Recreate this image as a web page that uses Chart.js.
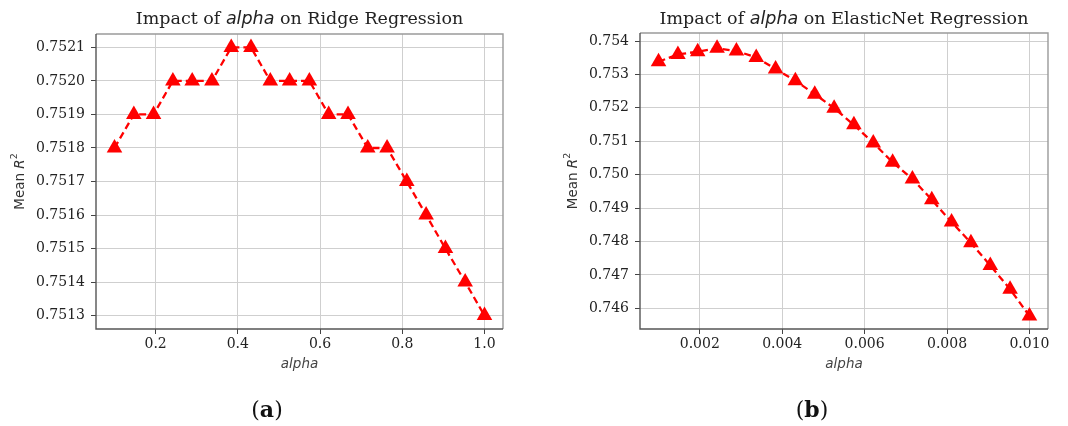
<!DOCTYPE html>
<html>
<head>
<meta charset="utf-8">
<script src="https://cdn.jsdelivr.net/npm/chart.js@4.4.0/dist/chart.umd.min.js"></script>
<style>
  body { margin: 0; background: #fff; width: 1068px; height: 426px; position: relative; overflow: hidden; }
  .box { position: absolute; top: 0; height: 426px; }
  .cap { position: absolute; top: 396px; font-family: "DejaVu Serif", serif; font-size: 22px; color: #111; transform: translateX(-50%); }
</style>
</head>
<body>
<div class="box" style="left:0;width:530px"><canvas id="ridgeChart"></canvas></div>
<div class="box" style="left:530px;width:538px"><canvas id="enetChart"></canvas></div>
<div class="cap" style="left:267px">(<b>a</b>)</div>
<div class="cap" style="left:812px">(<b>b</b>)</div>
<script>
// Ridge (a)
const ridgeAlpha = [0.1, 0.147, 0.195, 0.242, 0.289, 0.337, 0.384, 0.432, 0.479, 0.526,
                    0.574, 0.621, 0.668, 0.716, 0.763, 0.811, 0.858, 0.905, 0.953, 1.0];
const ridgeR2 = [0.7518, 0.7519, 0.7519, 0.7520, 0.7520, 0.7520, 0.7521, 0.7521, 0.7520, 0.7520,
                 0.7520, 0.7519, 0.7519, 0.7518, 0.7518, 0.7517, 0.7516, 0.7515, 0.7514, 0.7513];
const ridgeXTicks = [0.2, 0.4, 0.6, 0.8, 1.0];
const ridgeYTicks = [0.7513, 0.7514, 0.7515, 0.7516, 0.7517, 0.7518, 0.7519, 0.7520, 0.7521];

// ElasticNet (b)
const enetAlpha = [0.001, 0.00147, 0.00195, 0.00242, 0.00289, 0.00337, 0.00384, 0.00432, 0.00479, 0.00526,
                   0.00574, 0.00621, 0.00668, 0.00716, 0.00763, 0.00811, 0.00858, 0.00905, 0.00953, 0.01];
const enetR2 = [0.75338, 0.75360, 0.75368, 0.75378, 0.75370, 0.75351, 0.75316, 0.75281, 0.75241, 0.75199,
                0.75149, 0.75095, 0.75037, 0.74987, 0.74925, 0.74858, 0.74796, 0.74728, 0.74657, 0.74577];
const enetXTicks = [0.002, 0.004, 0.006, 0.008, 0.010];
const enetYTicks = [0.746, 0.747, 0.748, 0.749, 0.750, 0.751, 0.752, 0.753, 0.754];

const SERIF = '"DejaVu Serif", serif';
const SANS = '"DejaVu Sans", sans-serif';

// draw text made of parts with different fonts, centred at (x, y)
function drawRich(ctx, parts, x, y, angle) {
  ctx.save();
  ctx.translate(x, y);
  ctx.rotate(angle || 0);
  ctx.textBaseline = 'middle';
  ctx.textAlign = 'left';
  let total = 0;
  parts.forEach(p => { ctx.font = p.font; p.w = ctx.measureText(p.text).width; total += p.w; });
  let cx = -total / 2;
  parts.forEach(p => {
    ctx.font = p.font;
    ctx.fillStyle = p.color;
    ctx.fillText(p.text, cx, p.dy || 0);
    cx += p.w;
  });
  ctx.restore();
}

const framePlugin = {
  id: 'frame',
  beforeDatasetsDraw(chart) {
    const {ctx, chartArea: a} = chart;
    ctx.save();
    ctx.lineWidth = 1.4;
    ctx.strokeStyle = '#9a9a9a';
    ctx.beginPath();
    ctx.moveTo(a.left, a.top); ctx.lineTo(a.right, a.top); ctx.lineTo(a.right, a.bottom);
    ctx.stroke();
    ctx.strokeStyle = '#555';
    ctx.beginPath();
    ctx.moveTo(a.left, a.top); ctx.lineTo(a.left, a.bottom); ctx.lineTo(a.right, a.bottom);
    ctx.stroke();
    ctx.restore();
  },
  afterDraw(chart, args, opts) {
    const {ctx, chartArea: a} = chart;
    drawRich(ctx, [
      {text: 'Impact of ', font: '17.5px ' + SERIF, color: '#222'},
      {text: 'alpha', font: 'italic 17.5px ' + SANS, color: '#222'},
      {text: ' on ' + opts.model + ' Regression', font: '17.5px ' + SERIF, color: '#222'}
    ], (a.left + a.right) / 2, 19);
    drawRich(ctx, [
      {text: 'Mean ', font: '13.5px ' + SANS, color: '#333'},
      {text: 'R', font: 'italic 13.5px ' + SANS, color: '#333'},
      {text: '2', font: '9.5px ' + SANS, color: '#333', dy: -5}
    ], opts.yTitleX, (a.top + a.bottom) / 2, -Math.PI / 2);
  }
};

function makeChart(id, xs, ys, cfg) {
  const points = xs.map((x, i) => ({x: x, y: ys[i]}));
  const grid = {
    color: '#cfcfcf',
    borderDash: [3, 3],
    tickColor: '#444',
    tickLength: 5,
    tickBorderDash: []
  };
  return new Chart(document.getElementById(id), {
    type: 'line',
    data: {
      datasets: [{
        data: points,
        borderColor: '#ff0000',
        backgroundColor: '#ff0000',
        borderWidth: 2.3,
        borderDash: [7, 4],
        pointStyle: 'triangle',
        pointRadius: 9,
        pointBorderWidth: 0,
        tension: 0
      }]
    },
    options: {
      responsive: true,
      maintainAspectRatio: false,
      animation: false,
      devicePixelRatio: 1,
      layout: { padding: { left: cfg.padLeft, right: cfg.padRight, top: cfg.padTop, bottom: 53 } },
      plugins: {
        legend: { display: false },
        tooltip: { enabled: false },
        frame: { model: cfg.model, yTitleX: cfg.yTitleX }
      },
      scales: {
        x: {
          type: 'linear',
          min: cfg.xMin, max: cfg.xMax,
          border: { display: false },
          grid: grid,
          afterBuildTicks: s => { s.ticks = cfg.xTicks.map(v => ({value: v})); },
          afterFit: s => { s.height = 44; },
          ticks: {
            padding: 2, maxRotation: 0, color: '#222',
            font: { family: SERIF, size: 14 },
            callback: v => v.toFixed(cfg.xDec)
          },
          title: {
            display: true, text: 'alpha', color: '#444', padding: 0,
            font: { family: SANS, size: 13.5, style: 'italic' }
          }
        },
        y: {
          min: cfg.yMin, max: cfg.yMax,
          border: { display: false },
          grid: grid,
          afterBuildTicks: s => { s.ticks = cfg.yTicks.map(v => ({value: v})); },
          afterFit: s => { s.width = cfg.yWidth; },
          ticks: {
            padding: 6, color: '#222',
            font: { family: SERIF, size: 14 },
            callback: v => v.toFixed(cfg.yDec)
          }
        }
      }
    },
    plugins: [framePlugin]
  });
}

makeChart('ridgeChart', ridgeAlpha, ridgeR2, {
  model: 'Ridge', padLeft: 12, padRight: 27, padTop: 34, yWidth: 84, yTitleX: 20,
  xMin: 0.055, xMax: 1.045, xTicks: ridgeXTicks, xDec: 1,
  yMin: 0.75126, yMax: 0.75214, yTicks: ridgeYTicks, yDec: 4
});

makeChart('enetChart', enetAlpha, enetR2, {
  model: 'ElasticNet', padLeft: 36, padRight: 20, padTop: 33, yWidth: 74, yTitleX: 43,
  xMin: 0.00055, xMax: 0.01045, xTicks: enetXTicks, xDec: 3,
  yMin: 0.74538, yMax: 0.75424, yTicks: enetYTicks, yDec: 3
});
</script>
</body>
</html>
